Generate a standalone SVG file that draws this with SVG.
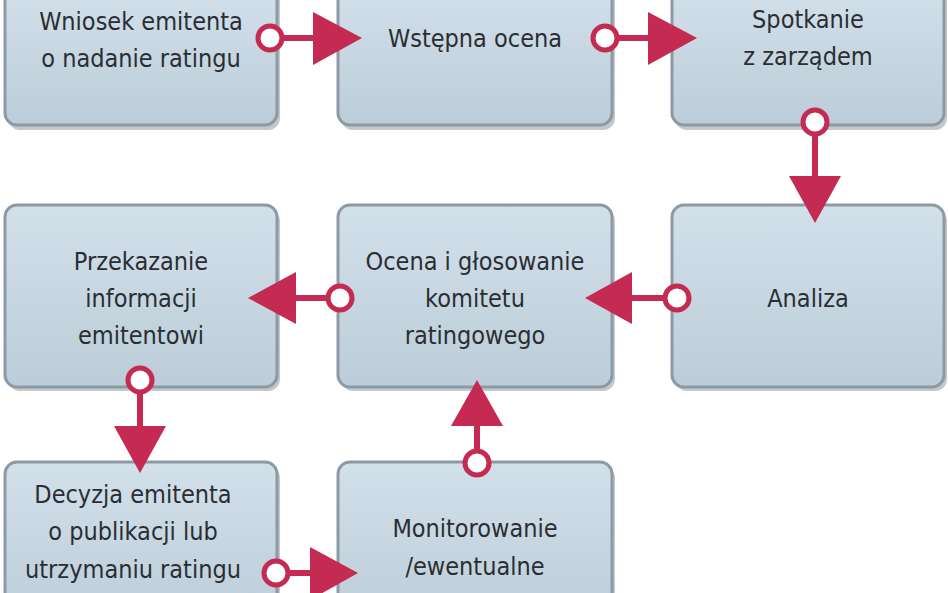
<svg xmlns="http://www.w3.org/2000/svg" width="948" height="593" viewBox="0 0 948 593">
<defs>
<linearGradient id="g" x1="0" y1="0" x2="0" y2="1"><stop offset="0" stop-color="#d2e0ea"/><stop offset="1" stop-color="#bccdd9"/></linearGradient>
<style>
.b{fill:url(#g);stroke:#8d9aa3;stroke-width:3}
.s{fill:#9aa3a9;opacity:.6}
text{font-family:"DejaVu Sans Condensed","DejaVu Sans",sans-serif;font-stretch:condensed;font-size:25px;fill:#2a2e33;text-anchor:middle}
.c{fill:#fff;stroke:#c42a52;stroke-width:5}
.l{stroke:#c42a52;stroke-width:6}
.t{fill:#c42a52}
</style>
</defs>
<rect width="948" height="593" fill="#fff"/>
<g id="n1"><rect class="s" x="8" y="-10" width="272" height="140" rx="12"/><rect class="b" x="5" y="-14" width="272" height="139" rx="12"/><text x="141" y="30">Wniosek emitenta</text><text x="141" y="67">o nadanie ratingu</text></g>
<g id="n2"><rect class="s" x="341" y="-10" width="274" height="140" rx="12"/><rect class="b" x="338" y="-14" width="274" height="139" rx="12"/><text x="475" y="47">Wstępna ocena</text></g>
<g id="n3"><rect class="s" x="675" y="-10" width="272" height="140" rx="12"/><rect class="b" x="672" y="-14" width="272" height="139" rx="12"/><text x="808" y="28">Spotkanie</text><text x="808" y="65">z zarządem</text></g>
<g id="n4"><rect class="s" x="675" y="209" width="272" height="182" rx="12"/><rect class="b" x="672" y="205" width="272" height="182" rx="12"/><text x="808" y="307">Analiza</text></g>
<g id="n5"><rect class="s" x="341" y="209" width="274" height="182" rx="12"/><rect class="b" x="338" y="205" width="274" height="182" rx="12"/><text x="475" y="270">Ocena i głosowanie</text><text x="475" y="307">komitetu</text><text x="475" y="344">ratingowego</text></g>
<g id="n6"><rect class="s" x="8" y="209" width="272" height="182" rx="12"/><rect class="b" x="5" y="205" width="272" height="182" rx="12"/><text x="141" y="270">Przekazanie</text><text x="141" y="307">informacji</text><text x="141" y="344">emitentowi</text></g>
<g id="n7"><rect class="s" x="8" y="466" width="272" height="160" rx="12"/><rect class="b" x="5" y="462" width="272" height="160" rx="12"/><text x="133" y="503">Decyzja emitenta</text><text x="133" y="540">o publikacji lub</text><text x="133" y="578">utrzymaniu ratingu</text></g>
<g id="n8"><rect class="s" x="341" y="466" width="274" height="160" rx="12"/><rect class="b" x="338" y="462" width="274" height="160" rx="12"/><text x="475" y="537">Monitorowanie</text><text x="475" y="575">/ewentualne</text></g>
<g id="connectors">
<line class="l" x1="270" y1="38" x2="318" y2="38"/><polygon class="t" points="313,12 362,38 313,65"/><circle class="c" cx="270" cy="38" r="12"/>
<line class="l" x1="605" y1="38" x2="652" y2="38"/><polygon class="t" points="648,12 697,38 648,65"/><circle class="c" cx="605" cy="38" r="12"/>
<line class="l" x1="815" y1="122" x2="815" y2="180"/><polygon class="t" points="789,176 841,176 815,223"/><circle class="c" cx="815" cy="122" r="12"/>
<line class="l" x1="677" y1="298" x2="628" y2="298"/><polygon class="t" points="632,272 632,324 585,298"/><circle class="c" cx="677" cy="298" r="12"/>
<line class="l" x1="340" y1="298" x2="292" y2="298"/><polygon class="t" points="296,272 296,324 248,298"/><circle class="c" cx="340" cy="298" r="12"/>
<line class="l" x1="140" y1="380" x2="140" y2="430"/><polygon class="t" points="114,426 166,426 140,473"/><circle class="c" cx="140" cy="380" r="12"/>
<line class="l" x1="276" y1="573" x2="314" y2="573"/><polygon class="t" points="310,547 358,573 310,600"/><circle class="c" cx="276" cy="573" r="12"/>
<line class="l" x1="477" y1="463" x2="477" y2="420"/><polygon class="t" points="451,426 503,426 477,380"/><circle class="c" cx="477" cy="463" r="12"/>
</g>
</svg>
